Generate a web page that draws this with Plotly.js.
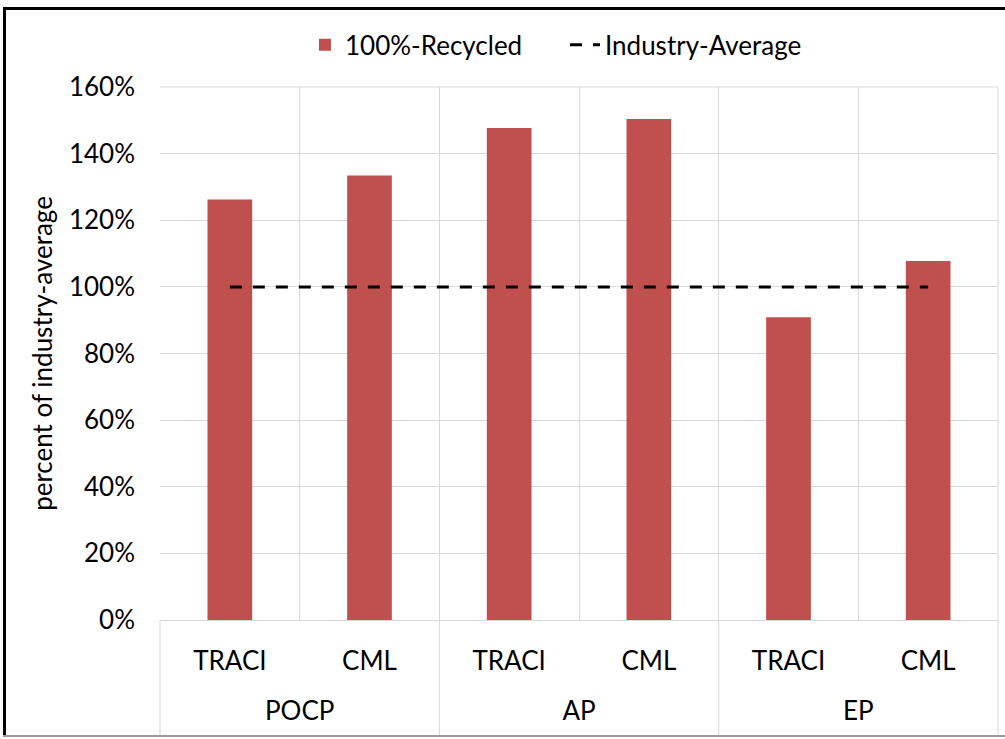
<!DOCTYPE html>
<html>
<head>
<meta charset="utf-8">
<script src="https://cdn.plot.ly/plotly-3.0.1.min.js"></script>
<style>
  html, body { margin: 0; padding: 0; background: #fff; }
  #wrap { position: relative; width: 1005px; height: 739px; overflow: hidden; }
  #chart { width: 1005px; height: 739px; }
  .edge { position: absolute; pointer-events: none; }
</style>
</head>
<body>
<div id="wrap">
  <div id="chart"></div>
  <div class="edge" style="left:3px; top:7px; width:1002px; height:3px; background:#000;"></div>
  <div class="edge" style="left:3px; top:7px; width:3px; height:730px; background:#000;"></div>
  <div class="edge" style="left:3px; top:735px; width:1002px; height:2px; background:#9a9a9a;"></div>
</div>
<script>
const groups = ["POCP", "POCP", "AP", "AP", "EP", "EP"];
const methods = ["TRACI", "CML", "TRACI", "CML", "TRACI", "CML"];
const recycled = [1.262, 1.334, 1.477, 1.504, 0.909, 1.078];
const industryAverage = [1.0, 1.0, 1.0, 1.0, 1.0, 1.0];
const yTicks = [0, 0.2, 0.4, 0.6, 0.8, 1.0, 1.2, 1.4, 1.6];

const FONT = "Lato, 'Open Sans', sans-serif";
const GRID = "#d9d9d9";
const FS = 26;

// group labels sit one line lower than the method labels
const groupLabels = groups.map(g => "<br>" + g);

const traces = [
  {
    type: "bar",
    name: "100%-Recycled",
    x: [groupLabels, methods],
    y: recycled,
    marker: { color: "#c0504d" },
    hoverinfo: "skip"
  },
  {
    type: "scatter",
    mode: "lines",
    name: "Industry-Average",
    x: [groupLabels, methods],
    y: industryAverage,
    line: { color: "#000000", width: 3, dash: "12px,11px" },
    hoverinfo: "skip"
  }
];

const layout = {
  width: 1005,
  height: 739,
  margin: { l: 160, r: 7, t: 87, b: 119 },
  paper_bgcolor: "#ffffff",
  plot_bgcolor: "#ffffff",
  font: { family: FONT, size: FS, color: "#000000" },
  bargap: 0.68,
  showlegend: true,
  legend: {
    orientation: "h",
    x: 0.173,
    xanchor: "left",
    y: 1.079,
    yanchor: "middle",
    font: { family: FONT, size: FS, color: "#000000" },
    traceorder: "normal",
    itemwidth: 30,
    entrywidth: 215
  },
  xaxis: {
    type: "multicategory",
    tickson: "boundaries",
    showgrid: true,
    gridcolor: GRID,
    gridwidth: 1,
    showline: true,
    linecolor: GRID,
    linewidth: 1,
    ticks: "",
    ticklabelstandoff: 18,
    showdividers: false,
    tickfont: { family: FONT, size: FS, color: "#000000" },
    fixedrange: true
  },
  yaxis: {
    range: [0, 1.6],
    tickvals: yTicks,
    tickformat: ".0%",
    showgrid: true,
    gridcolor: GRID,
    gridwidth: 1,
    zeroline: false,
    showline: false,
    ticks: "",
    ticklabelstandoff: 24,
    tickfont: { family: FONT, size: FS, color: "#000000" },
    title: { text: "percent of industry-average", font: { family: FONT, size: FS, color: "#000000" }, standoff: 8 },
    fixedrange: true
  },
  shapes: [
    { type: "line", xref: "paper", yref: "paper", x0: 0, x1: 0, y0: 0, y1: -0.216, line: { color: GRID, width: 1 } },
    { type: "line", xref: "paper", yref: "paper", x0: 1, x1: 1, y0: 1, y1: -0.216, line: { color: GRID, width: 1 } },
    { type: "line", xref: "paper", yref: "paper", x0: 1/3, x1: 1/3, y0: 0, y1: -0.216, line: { color: GRID, width: 1 } },
    { type: "line", xref: "paper", yref: "paper", x0: 2/3, x1: 2/3, y0: 0, y1: -0.216, line: { color: GRID, width: 1 } },
    { type: "line", xref: "paper", yref: "paper", x0: 0, x1: 1, y0: 1, y1: 1, line: { color: GRID, width: 1 } }
  ]
};

Plotly.newPlot("chart", traces, layout, { displayModeBar: false, staticPlot: true });
</script>
</body>
</html>
